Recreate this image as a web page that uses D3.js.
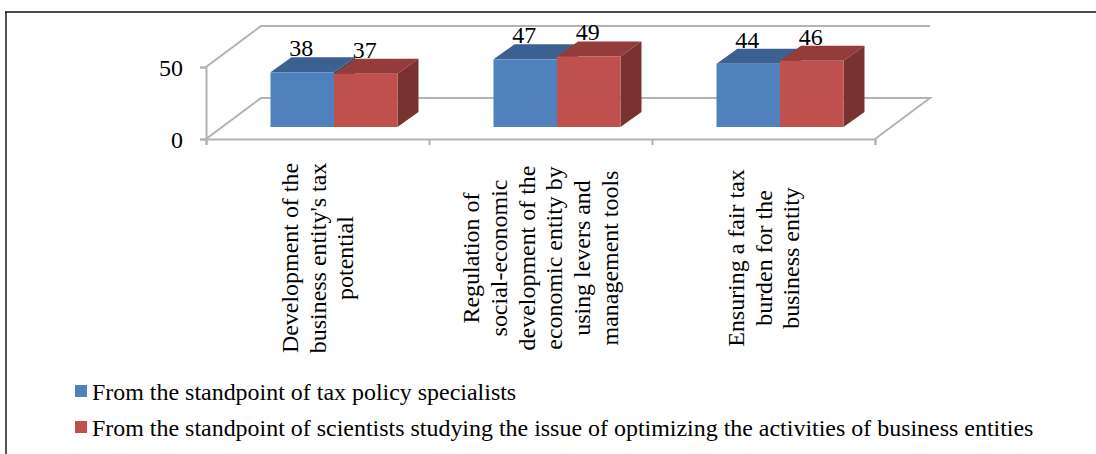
<!DOCTYPE html>
<html>
<head>
<meta charset="utf-8">
<script src="https://cdn.jsdelivr.net/npm/d3@7"></script>
<style>
html, body { margin: 0; padding: 0; background: #fff; overflow: hidden; }
text { font-family: "Liberation Serif", serif; fill: #000; }
</style>
</head>
<body>
<svg id="chart" width="1096" height="454" style="display:block"></svg>
<script>
const categories = [
    ["Development of the", "business entity's tax", "potential"],
    ["Regulation of", "social-economic", "development of the", "economic entity by", "using levers and", "management tools"],
    ["Ensuring a fair tax", "burden for the", "business entity"]
];
const seriesNames = [
    "From the standpoint of tax policy specialists",
    "From the standpoint of scientists studying the issue of optimizing the activities of business entities"
];
const seriesA = [38, 47, 44];
const seriesB = [37, 49, 46];
const yTicks = [0, 50];

const chart = d3.select("#chart");
const wallColor = "#b3b3b3";
const frontColors = ["#4f81bd", "#c0504d"];
const topColors = ["#3c6191", "#943c3a"];
const sideColors = ["#2f4d73", "#7a3230"];
const fontSize = 23.95;
const depthX = 55;
const depthY = 41;
const barDepthX = 21;
const barDepthY = 15;
const barFloorX = 16.5;
const barFloorY = 12;

const x = d3.scaleBand().domain(d3.range(categories.length)).range([206, 875]);
const xSeries = d3.scaleBand().domain([0, 1]).range([0, 127]);
const y = d3.scaleLinear().domain([0, 50]).range([139, 67]);

// frame, open on the right and at the bottom
chart.append("path")
    .attr("d", "M6,454V12")
    .attr("stroke", "#555")
    .attr("stroke-width", 2);
chart.append("path")
    .attr("d", "M5,12H1096")
    .attr("stroke", "#111")
    .attr("stroke-width", 1.5);

// walls and floor
const walls = chart.append("g")
    .attr("fill", "none")
    .attr("stroke", wallColor)
    .attr("stroke-width", 2);
walls.append("path")
    .attr("d", d3.line()([
        [x.range()[0], y(50)],
        [x.range()[0] + depthX, y(50) - depthY],
        [x.range()[1] + depthX, y(50) - depthY]
    ]));
walls.append("path")
    .attr("d", d3.line()([
        [x.range()[0], y(0)],
        [x.range()[0] + depthX, y(0) - depthY],
        [x.range()[1] + depthX, y(0) - depthY],
        [x.range()[1], y(0)]
    ]));

// axes
const axisY = chart.append("g")
    .attr("transform", "translate(206,0)")
    .call(d3.axisLeft(y).tickValues(yTicks).tickSize(6).tickPadding(17));
const tickEdges = d3.range(categories.length + 1).map(i => i < categories.length ? x(i) : x.range()[1]);
const axisX = chart.append("g")
    .attr("transform", "translate(0,139)")
    .call(d3.axisBottom(d3.scaleLinear().domain(x.range()).range(x.range()))
        .tickValues(tickEdges).tickSize(6).tickFormat(""));
[axisY, axisX].forEach(a => {
    a.selectAll(".domain").attr("stroke", wallColor).attr("stroke-width", 2);
    a.selectAll("line").attr("stroke", wallColor).attr("stroke-width", 2);
});
axisY.selectAll("text")
    .attr("font-family", "Liberation Serif")
    .attr("font-size", fontSize)
    .attr("dy", "0.36em")
    .attr("fill", "#000");

// bars, drawn back to front within each group
const series = [seriesA, seriesB];
function barX(i, s) {
    return x(i) + barFloorX + (x.bandwidth() - 127) / 2 + xSeries(s);
}
series.forEach((values, s) => {
    const bars = chart.append("g").attr("class", "series-" + s);
    values.forEach((v, i) => {
        const x0 = barX(i, s);
        const x1 = x0 + xSeries.bandwidth();
        const yb = y(0) - barFloorY;
        const yt = y(v) - barFloorY;
        bars.append("polygon")
            .attr("points", [[x0, yt], [x0 + barDepthX, yt - barDepthY], [x1 + barDepthX, yt - barDepthY], [x1, yt]].join(" "))
            .attr("fill", topColors[s]);
        bars.append("polygon")
            .attr("points", [[x1, yt], [x1 + barDepthX, yt - barDepthY], [x1 + barDepthX, yb - barDepthY], [x1, yb]].join(" "))
            .attr("fill", sideColors[s]);
        bars.append("rect")
            .attr("x", x0)
            .attr("y", yt)
            .attr("width", xSeries.bandwidth())
            .attr("height", yb - yt)
            .attr("fill", frontColors[s]);
    });
});

// value labels
series.forEach((values, s) => {
    chart.append("g").selectAll("text")
        .data(values)
        .enter()
        .append("text")
        .text(d => d)
        .attr("x", (d, i) => barX(i, s) + xSeries.bandwidth() / 2 - 1)
        .attr("y", d => y(d) - barFloorY - barDepthY - 1)
        .attr("text-anchor", "middle")
        .attr("font-size", fontSize);
});

// category labels, rotated
categories.forEach((lines, i) => {
    const n = lines.length;
    const label = chart.append("g")
        .attr("transform", "translate(" + (x(i) + x.bandwidth() / 2 + 8) + ",258) rotate(-90)")
        .attr("text-anchor", "middle");
    lines.forEach((line, j) => {
        label.append("text")
            .text(line)
            .attr("y", (j - (n - 1) / 2) * 27.7)
            .attr("font-size", fontSize);
    });
});

// legend
const legendY = d3.scalePoint().domain([0, 1]).range([391, 427]);
seriesNames.forEach((name, s) => {
    chart.append("rect")
        .attr("x", 75)
        .attr("y", legendY(s) - 6)
        .attr("width", 12)
        .attr("height", 12)
        .attr("fill", frontColors[s]);
    chart.append("text")
        .text(name)
        .attr("x", 92)
        .attr("y", legendY(s) + 9)
        .attr("font-size", fontSize);
});
</script>
</body>
</html>
